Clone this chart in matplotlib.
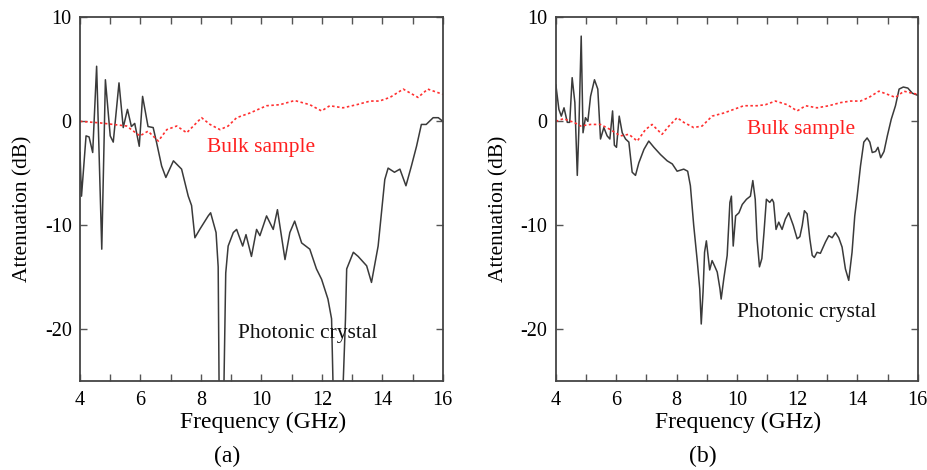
import numpy as np
import matplotlib
matplotlib.use("Agg")
import matplotlib.pyplot as plt
from matplotlib.ticker import MultipleLocator

plt.rcParams['font.family'] = ['Liberation Serif', 'DejaVu Serif']
plt.rcParams['axes.unicode_minus'] = False

# (a) photonic crystal
freq_pc_a = [4.0, 4.05, 4.2, 4.3, 4.42, 4.55, 4.6, 4.72, 4.84, 5.0, 5.1, 5.29, 5.43,
             5.57, 5.7, 5.81, 5.96, 6.07, 6.25, 6.42, 6.53, 6.7, 6.84, 7.09, 7.36,
             7.58, 7.69, 7.8, 7.96, 8.24, 8.32, 8.5, 8.57, 8.6, 8.72, 8.76, 8.82,
             8.9, 9.07, 9.18, 9.38, 9.49, 9.67, 9.84, 9.95, 10.17, 10.39, 10.53,
             10.78, 10.94, 11.1, 11.33, 11.6, 11.82, 11.99, 12.2, 12.32, 12.37,
             12.7, 12.78, 12.82, 13.04, 13.2, 13.48, 13.64, 13.86, 14.08, 14.19,
             14.4, 14.58, 14.78, 14.96, 15.13, 15.29, 15.45, 15.68, 15.85, 16.0]
att_pc_a = [-3.0, -7.2, -1.4, -1.5, -3.0, 5.3, 0.2, -12.3, 4.0, -1.4, -2.0, 3.7, -0.6,
            1.15, -0.5, -0.2, -2.4, 2.4, -0.5, -0.6, -2.0, -4.3, -5.4, -3.8, -4.6,
            -7.2, -8.1, -11.2, -10.4, -9.1, -8.8, -10.7, -14.0, -25.5, -25.5, -25.5,
            -14.6, -12.0, -10.7, -10.4, -12.0, -10.9, -13.0, -10.4, -11.0, -9.1,
            -10.4, -8.5, -13.3, -10.7, -9.6, -11.7, -12.3, -14.2, -15.2, -17.1,
            -19.0, -25.5, -25.5, -19.0, -14.2, -12.6, -13.0, -13.9, -15.5, -12.0,
            -5.6, -4.5, -4.9, -4.6, -6.2, -4.3, -2.4, -0.3, -0.3, 0.35, 0.35, 0.0]

# (a) bulk sample
freq_bk_a = [4.0, 4.66, 5.1, 5.54, 5.98, 6.25, 6.59, 6.87, 7.2, 7.53, 7.8, 8.02, 8.3,
             8.63, 8.9, 9.18, 9.62, 10.17, 10.61, 11.1, 11.6, 11.99, 12.26, 12.7,
             13.15, 13.6, 13.9, 14.25, 14.69, 15.18, 15.5, 16.0]
att_bk_a = [0.0, -0.15, -0.3, -0.45, -1.4, -0.95, -1.9, -0.8, -0.45, -1.1, -0.3,
            0.35, -0.3, -0.8, -0.45, 0.35, 0.8, 1.5, 1.6, 2.0, 1.6, 1.0, 1.5, 1.3,
            1.6, 1.95, 1.95, 2.3, 3.1, 2.3, 3.1, 2.6]

# (b) photonic crystal
freq_pc_b = [4.0, 4.1, 4.18, 4.27, 4.38, 4.46, 4.54, 4.63, 4.71, 4.76, 4.84, 4.9,
             4.98, 5.06, 5.15, 5.28, 5.39, 5.48, 5.59, 5.7, 5.79, 5.88, 5.94, 6.01,
             6.1, 6.2, 6.31, 6.42, 6.53, 6.64, 6.75, 6.92, 7.08, 7.25, 7.47, 7.69,
             7.86, 8.02, 8.24, 8.37, 8.46, 8.57, 8.69, 8.77, 8.82, 8.88, 8.93, 8.99,
             9.1, 9.18, 9.26, 9.35, 9.44, 9.48, 9.57, 9.68, 9.77, 9.82, 9.88, 9.96,
             10.07, 10.18, 10.32, 10.45, 10.53, 10.61, 10.67, 10.75, 10.83, 10.9,
             10.98, 11.09, 11.17, 11.22, 11.3, 11.39, 11.5, 11.61, 11.72, 11.87,
             12.0, 12.09, 12.17, 12.24, 12.33, 12.42, 12.5, 12.57, 12.66, 12.77,
             12.94, 13.05, 13.16, 13.27, 13.38, 13.49, 13.6, 13.71, 13.82, 13.91,
             13.99, 14.1, 14.21, 14.32, 14.41, 14.49, 14.6, 14.68, 14.77, 14.88,
             14.99, 15.12, 15.26, 15.38, 15.52, 15.67, 15.82, 16.0]
att_pc_b = [3.5, 1.15, 0.5, 1.3, -0.1, -0.1, 4.2, 1.8, -5.2, -1.0, 8.2, -1.1,
            0.35, 0.0, 2.4, 4.0, 3.1, -1.7, -0.6, -1.4, -1.7, 1.0, -2.3, -2.5,
            0.5, -1.1, -1.7, -2.0, -4.9, -5.2, -4.0, -2.7, -1.9, -2.5, -3.2, -3.8,
            -4.1, -4.8, -4.6, -4.8, -6.2, -10.0, -13.5, -16.1, -19.5, -16.4, -12.6,
            -11.5, -14.3, -13.4, -13.9, -14.5, -16.1, -17.1, -15.1, -12.9, -7.8,
            -7.2, -12.0, -9.1, -8.8, -8.0, -7.5, -7.2, -5.7, -7.5, -11.3, -14.0,
            -13.2, -10.7, -7.5, -7.8, -7.5, -7.8, -10.4, -9.7, -10.4, -9.4, -8.8,
            -10.0, -11.3, -11.1, -10.0, -8.6, -8.9, -11.3, -12.9, -13.1, -12.6,
            -12.7, -11.6, -11.0, -11.2, -10.7, -11.2, -12.1, -14.2, -15.3, -12.6,
            -9.1, -7.2, -4.3, -2.0, -1.6, -2.0, -3.0, -2.9, -2.5, -3.5, -2.9, -1.4,
            0.2, 1.5, 3.1, 3.3, 3.2, 2.7, 2.5]

# (b) bulk sample
freq_bk_b = [4.0, 4.25, 4.6, 4.82, 5.15, 5.48, 5.81, 6.14, 6.42, 6.7, 6.97, 7.19,
             7.52, 7.75, 8.02, 8.24, 8.57, 8.85, 9.18, 9.57, 9.9, 10.23, 10.67,
             10.95, 11.28, 11.67, 12.0, 12.28, 12.66, 13.05, 13.44, 13.77, 14.1,
             14.38, 14.71, 14.99, 15.26, 15.54, 15.82, 16.0]
att_bk_b = [0.0, 0.25, -0.1, -0.45, -0.3, -0.3, -0.8, -1.4, -1.25, -1.9, -0.8,
            -0.3, -1.25, -0.45, 0.35, -0.1, -0.6, -0.45, 0.5, 0.8, 1.15, 1.5, 1.5,
            1.6, 1.95, 1.6, 1.0, 1.5, 1.3, 1.5, 1.8, 1.95, 1.95, 2.3, 2.9, 2.6,
            2.3, 2.9, 2.7, 2.6]

panels = [
    dict(rect=[0.0862, 0.189, 0.391, 0.774], pc=(freq_pc_a, att_pc_a),
         bk=(freq_bk_a, att_bk_a), bulk_pos=(8.2, -2.5), pc_pos=(9.22, -20.4),
         tag="(a)", tag_x=0.2446),
    dict(rect=[0.599, 0.189, 0.390, 0.774], pc=(freq_pc_b, att_pc_b),
         bk=(freq_bk_b, att_bk_b), bulk_pos=(10.33, -0.8), pc_pos=(10.0, -18.4),
         tag="(b)", tag_x=0.757),
]

fig = plt.figure(figsize=(9.28, 4.70), dpi=100)

for p in panels:
    ax = fig.add_axes(p["rect"])
    ax.plot(p["pc"][0], p["pc"][1], color="#3a3a3a", lw=1.1)
    ax.plot(p["bk"][0], p["bk"][1], color="#ff3030", lw=1.2, ls=(0, (1.5, 1.5)))
    ax.set_xlim(4, 16)
    ax.set_ylim(-25, 10)
    ax.xaxis.set_major_locator(MultipleLocator(2))
    ax.xaxis.set_minor_locator(MultipleLocator(1))
    ax.yaxis.set_major_locator(MultipleLocator(10))
    ax.tick_params(which="both", direction="in", top=True, right=True,
                   color="#555555", labelsize=14.5, width=1, length=5)
    ax.tick_params(axis="x", pad=7)
    ax.tick_params(axis="y", pad=6)
    for s in ax.spines.values():
        s.set_color("#444444")
        s.set_linewidth(1.3)
    ax.set_xlabel("Frequency (GHz)", fontsize=17)
    ax.set_ylabel("Attenuation (dB)", fontsize=15.5)
    ax.xaxis.set_label_coords(0.504, -0.085)
    ax.yaxis.set_label_coords(-0.132, 0.475)
    ax.text(p["bulk_pos"][0], p["bulk_pos"][1], "Bulk sample", color="#ff2020",
            fontsize=15.5, va="center")
    ax.text(p["pc_pos"][0], p["pc_pos"][1], "Photonic crystal", color="#111111",
            fontsize=15.5, va="center")
    fig.text(p["tag_x"], 0.028, p["tag"], fontsize=17, ha="center", va="center")

fig.savefig("out.png", dpi=100)
